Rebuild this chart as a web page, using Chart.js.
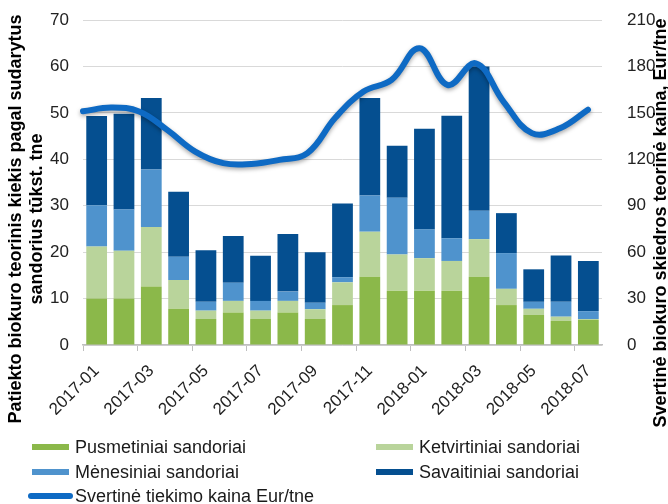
<!DOCTYPE html>
<html>
<head>
<meta charset="utf-8">
<script src="https://cdn.jsdelivr.net/npm/chart.js@4"></script>
<style>
  body { margin: 0; background: #fff; }
  #wrap { position: relative; width: 668px; height: 504px; }
  .leg { position: absolute; font: 18px "Liberation Sans", Arial, sans-serif; color: #1a1a1a; white-space: nowrap; line-height: 20px; }
  .leg i { position: absolute; left: 0; top: 7px; width: 37px; height: 6px; }
  .leg span { position: absolute; left: 43px; top: 0; }
</style>
</head>
<body>
<div id="wrap">
  <canvas id="chart" width="668" height="504"></canvas>
  <div class="leg" style="left:32px;top:437px"><i style="background:#8bb84a"></i><span>Pusmetiniai sandoriai</span></div>
  <div class="leg" style="left:376px;top:437px"><i style="background:#b9d49b"></i><span>Ketvirtiniai sandoriai</span></div>
  <div class="leg" style="left:32px;top:462px"><i style="background:#4f93cd"></i><span>Mėnesiniai sandoriai</span></div>
  <div class="leg" style="left:376px;top:462px"><i style="background:#054f90"></i><span>Savaitiniai sandoriai</span></div>
  <div class="leg" style="left:28px;top:486px"><i style="background:#0e6ac4;width:45px;border-radius:3px"></i><span style="left:47px">Svertinė tiekimo kaina Eur/tne</span></div>
</div>
<script>
const months = ["2017-01", "2017-02", "2017-03", "2017-04", "2017-05", "2017-06", "2017-07", "2017-08", "2017-09", "2017-10",
    "2017-11", "2017-12", "2018-01", "2018-02", "2018-03", "2018-04", "2018-05", "2018-06", "2018-07"];
const pusmetiniai = [10, 10, 12.6, 7.8, 5.6, 7, 5.6, 7, 5.6, 8.6, 14.7, 11.7, 11.7, 11.7, 14.7, 8.6, 6.5, 5.2, 5.4];
const ketvirtiniai = [11.2, 10.3, 12.8, 6.2, 1.8, 2.5, 1.8, 2.5, 2.1, 4.9, 9.7, 7.8, 7.0, 6.4, 8.1, 3.5, 1.3, 0.9, 0.2];
const menesiniai = [8.9, 8.9, 12.4, 5.0, 1.9, 3.9, 2.1, 2.0, 1.4, 1.1, 7.8, 12.2, 6.2, 4.9, 6.1, 7.7, 1.5, 3.2, 1.7];
const savaitiniai = [19.2, 20.6, 15.4, 14.0, 11.1, 10.1, 9.7, 12.4, 10.9, 15.9, 21.0, 11.2, 21.7, 26.4, 31.1, 8.6, 7.0, 10.0, 10.8];
const kaina = [151, 153.4, 150.9, 139, 125, 117.5, 117, 119.6, 124, 147, 163.8, 171.3, 191.8, 168, 182, 157, 136.9, 140, 152];

const leftTicks = { min: 0, max: 70, step: 10 };
const rightTicks = { min: 0, max: 210, step: 30 };

const fontFamily = '"Liberation Sans", Arial, sans-serif';

// axis titles read bottom-to-top on both sides
const axisTitles = {
    id: "axisTitles",
    afterDraw(chart) {
        const ctx = chart.ctx;
        ctx.save();
        ctx.fillStyle = "#000";
        ctx.font = "bold 18px " + fontFamily;
        ctx.textAlign = "center";
        ctx.textBaseline = "middle";
        const put = (txt, x, y) => {
            ctx.save();
            ctx.translate(x, y);
            ctx.rotate(-Math.PI / 2);
            ctx.fillText(txt, 0, 0);
            ctx.restore();
        };
        put("Patiekto biokuro teorinis kiekis pagal sudarytus", 16, 219);
        put("sandorius tūkst. tne", 37, 219);
        put("Svertinė biokuro skiedros teorinė kaina, Eur/tne", 661, 223);
        ctx.restore();
    }
};

const lineShadow = {
    id: "lineShadow",
    beforeDatasetDraw(chart, args) {
        if (chart.data.datasets[args.index].type !== "line") return;
        const ctx = chart.ctx;
        ctx.save();
        ctx.shadowColor = "rgba(0,0,0,0.35)";
        ctx.shadowBlur = 4;
        ctx.shadowOffsetY = 2;
    },
    afterDatasetDraw(chart, args) {
        if (chart.data.datasets[args.index].type !== "line") return;
        chart.ctx.restore();
    }
};

const bar = (label, data, color) => ({
    type: "bar", label, data, backgroundColor: color, borderWidth: 0,
    yAxisID: "y", xAxisID: "x", order: 1, grouped: false,
    barPercentage: 0.76, categoryPercentage: 1
});

// fixed scale boxes so the plot area sits where the reference has it
const fixWidth = (w) => (s) => { s.width = w; s.paddingTop = 0; s.paddingBottom = 0; };

new Chart(document.getElementById("chart"), {
    data: {
        labels: months,
        datasets: [
            bar("Pusmetiniai sandoriai", pusmetiniai, "#8bb84a"),
            bar("Ketvirtiniai sandoriai", ketvirtiniai, "#b9d49b"),
            bar("Mėnesiniai sandoriai", menesiniai, "#4f93cd"),
            bar("Savaitiniai sandoriai", savaitiniai, "#054f90"),
            {
                type: "line",
                label: "Svertinė tiekimo kaina Eur/tne",
                data: kaina.map((v, i) => ({ x: i, y: v })),
                xAxisID: "x2",
                yAxisID: "y1",
                borderColor: "#0e6ac4",
                borderWidth: 6,
                borderCapStyle: "round",
                borderJoinStyle: "round",
                tension: 0.4,
                pointRadius: 0,
                clip: false,
                order: 0
            }
        ]
    },
    options: {
        responsive: false,
        animation: false,
        layout: { padding: { top: 20, bottom: 89, left: 0, right: 0 } },
        plugins: {
            legend: { display: false },
            tooltip: { enabled: false }
        },
        scales: {
            x: {
                type: "category",
                stacked: true,
                offset: true,
                grid: {
                    offset: true,
                    drawOnChartArea: false,
                    tickLength: 6,
                    color: (c) => (c.index % 2 === 0 ? "#bfbfbf" : "rgba(0,0,0,0)")
                },
                border: { color: "#bfbfbf", width: 1.5 },
                ticks: {
                    autoSkip: false,
                    maxRotation: 45,
                    minRotation: 45,
                    padding: 10,
                    color: "#222",
                    font: { size: 17, family: fontFamily },
                    callback: (v, i) => (i % 2 === 0 ? months[i] : "")
                },
                afterFit: (s) => { s.height = 70; s.paddingLeft = 0; s.paddingRight = 0; }
            },
            x2: { type: "linear", display: false, min: 0, max: 18.5 },
            y: {
                position: "left",
                stacked: true,
                min: leftTicks.min,
                max: leftTicks.max,
                ticks: { stepSize: leftTicks.step, padding: 14, color: "#222", font: { size: 17, family: fontFamily } },
                grid: { color: "#d9d9d9", drawTicks: false },
                border: { display: false },
                afterFit: fixWidth(83)
            },
            y1: {
                position: "right",
                min: rightTicks.min,
                max: rightTicks.max,
                ticks: { stepSize: rightTicks.step, padding: 17, color: "#222", font: { size: 17, family: fontFamily } },
                grid: { display: false },
                border: { display: false },
                afterFit: fixWidth(66)
            }
        }
    },
    plugins: [axisTitles, lineShadow]
});
</script>
</body>
</html>
